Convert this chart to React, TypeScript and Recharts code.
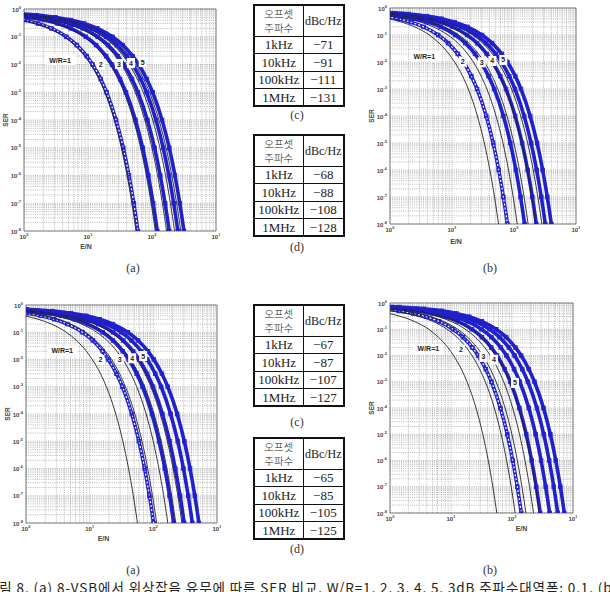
import React from 'react';
import { LineChart, Line, XAxis, YAxis, CartesianGrid, ReferenceArea, ReferenceDot, Label } from 'recharts';

const serLevels = [0.8, 0.7, 0.6, 0.5, 0.4, 0.3, 0.2, 0.1, 0.05, 0.02, 0.01, 0.003, 0.001, 1e-4, 1e-5, 1e-6, 1e-7, 1e-8, 1e-9];

// black lines: without phase noise, W/R = 1..5 (same in every panel)
const refX1 = [0.02, 0.11, 0.28, 0.55, 0.95, 1.55, 2.5, 4.3, 6.2, 8.9, 11, 14.8, 18.3, 25.7, 33.2, 40.8, 48.5, 56.3, 64.2];
const refX2 = [0.04, 0.22, 0.56, 1.1, 1.91, 3.1, 5.0, 8.6, 12.5, 17.8, 22.1, 29.5, 36.5, 51.3, 66.4, 81.6, 97, 112.6, 128.4];
const refX3 = [0.06, 0.33, 0.84, 1.66, 2.86, 4.66, 7.5, 12.9, 18.7, 26.8, 33.1, 44.3, 54.8, 77, 99.6, 122.4, 145.5, 168.9, 192.6];
const refX4 = [0.08, 0.44, 1.12, 2.21, 3.82, 6.21, 10, 17.2, 25, 35.7, 44.1, 59, 73, 102.6, 132.8, 163.2, 194, 225.2, 256.8];
const refX5 = [0.1, 0.55, 1.41, 2.76, 4.77, 7.77, 12.5, 21.5, 31.2, 44.6, 55.2, 73.8, 91.3, 128.3, 166, 204, 242.5, 281.5, 321];

// blue markers: with phase noise, top (a)
const topA1 = [0.02, 0.12, 0.30, 0.59, 1.02, 1.66, 2.68, 4.6, 6.68, 9.54, 11.8, 15.8, 19.5, 27.4, 35.5, 43.7, 51.9, 60.2, 68.7];
const topA2 = [0.04, 0.24, 0.60, 1.19, 2.05, 3.34, 5.38, 9.25, 13.4, 19.2, 23.7, 31.7, 39.2, 55.1, 71.4, 87.7, 104.3, 121, 138];
const topA3 = [0.07, 0.36, 0.93, 1.82, 3.15, 5.12, 8.25, 14.2, 20.6, 29.4, 36.4, 48.7, 60.2, 84.6, 109.6, 134.6, 160, 185.8, 211.9];
const topA4 = [0.09, 0.50, 1.26, 2.48, 4.29, 6.99, 11.25, 19.35, 28.1, 40.1, 49.6, 66.4, 82.1, 115.4, 149.4, 183.6, 218.3, 253.4, 288.9];
const topA5 = [0.11, 0.62, 1.57, 3.09, 5.34, 8.7, 14, 24.1, 34.9, 50, 61.8, 82.6, 102.2, 143.6, 185.9, 228.5, 271.6, 315.3, 359.5];
// top (b)
const topB1 = [0.03, 0.15, 0.39, 0.77, 1.33, 2.16, 3.48, 5.98, 8.67, 12.4, 15.3, 20.5, 25.4, 35.7, 46.1, 56.7, 67.4, 78.3, 89.2];
const topB2 = [0.05, 0.29, 0.74, 1.45, 2.51, 4.08, 6.58, 11.3, 16.4, 23.5, 29, 38.8, 48, 67.5, 87.3, 107.3, 127.6, 148.1, 168.8];
const topB3 = [0.08, 0.45, 1.14, 2.25, 3.88, 6.32, 10.2, 17.5, 25.4, 36.3, 44.9, 60, 74.3, 104.4, 135.1, 166.1, 197.4, 229.1, 261.3];
const topB4 = [0.11, 0.62, 1.6, 3.14, 5.42, 8.82, 14.2, 24.4, 35.4, 50.7, 62.7, 83.8, 103.7, 145.7, 188.6, 231.7, 275.5, 319.8, 364.7];
const topB5 = [0.14, 0.78, 2.0, 3.92, 6.77, 11, 17.75, 30.5, 44.3, 63.3, 78.3, 104.7, 129.6, 182.1, 235.7, 289.7, 344.4, 399.7, 455.8];
// bottom (a)
const botA1 = [0.04, 0.20, 0.50, 0.99, 1.71, 2.78, 4.48, 7.7, 11.2, 16, 19.7, 26.4, 32.7, 45.9, 59.4, 73, 86.8, 100.8, 114.9];
const botA2 = [0.07, 0.41, 1.04, 2.05, 3.54, 5.76, 9.28, 16, 23.2, 33.1, 40.9, 54.7, 67.7, 95.2, 123.2, 151.4, 179.9, 208.9, 238.2];
const botA3 = [0.11, 0.60, 1.52, 2.99, 5.17, 8.42, 13.6, 23.3, 33.8, 48.3, 59.8, 79.9, 98.9, 139, 180, 221.1, 262.9, 305.1, 348];
const botA4 = [0.15, 0.80, 2.05, 4.02, 6.95, 11.3, 18.2, 31.3, 45.4, 64.9, 80.3, 107.4, 132.9, 186.7, 241.7, 297, 353.1, 409.9, 467.4];
const botA5 = [0.18, 1.02, 2.6, 5.1, 8.81, 14.35, 23.1, 39.7, 57.7, 82.4, 101.9, 136.3, 168.6, 237, 306.8, 377, 448.1, 520.2, 593.2];
// bottom (b)
const botB1 = [0.05, 0.28, 0.71, 1.39, 2.4, 3.91, 6.3, 10.8, 15.7, 22.5, 27.8, 37.2, 46, 64.6, 83.7, 102.8, 122.2, 141.9, 161.8];
const botB2 = [0.10, 0.57, 1.45, 2.84, 4.91, 8.0, 12.9, 22.1, 32.1, 45.9, 56.8, 76, 94, 132.1, 171, 210.1, 249.8, 289.9, 330.6];
const botB3 = [0.15, 0.81, 2.07, 4.06, 7.01, 11.4, 18.4, 31.6, 45.9, 65.6, 81.1, 108.4, 134.1, 188.5, 244, 299.9, 356.5, 413.8, 471.9];
const botB4 = [0.20, 1.1, 2.8, 5.51, 9.52, 15.5, 24.95, 42.9, 62.3, 89, 110.1, 147.2, 182.1, 256, 331.3, 407.2, 484, 561.9, 640.7];
const botB5 = [0.26, 1.41, 3.6, 7.07, 12.2, 19.9, 32, 55, 79.9, 114.2, 141.2, 188.8, 233.6, 328.3, 425, 522.2, 620.8, 720.6, 821.8];

// curve labels and where they sit (E/N, SER)
const wrLabels = ['W/R=1', '2', '3', '4', '5'];
const annTopA = [[3.65, 0.0145], [15.8, 0.0104], [30.5, 0.0104], [47, 0.0113], [71.6, 0.0123]];
const annTopB = [[3.57, 0.0157], [14.9, 0.0103], [30.1, 0.0098], [44.7, 0.0109], [67.2, 0.0119]];
const annBotA = [[3.7, 0.021], [14.8, 0.0096], [29.7, 0.0102], [46.5, 0.0111], [69.2, 0.0134]];
const annBotB = [[4.25, 0.0177], [14.6, 0.0166], [33.9, 0.0088], [50.7, 0.0069], [112, 0.0009]];

// tables
const offsetFreqs = ['1kHz', '10kHz', '100kHz', '1MHz'];
const dbcTopC = [-71, -91, -111, -131];
const dbcTopD = [-68, -88, -108, -128];
const dbcBotC = [-67, -87, -107, -127];
const dbcBotD = [-65, -85, -105, -125];

const xDecades = [1, 10, 100, 1000];
const yExponents = [-8, -7, -6, -5, -4, -3, -2, -1, 0];
const minorSteps = [1, 2, 3, 4, 5, 6, 7, 8, 9];
const captionText = '그림 8. (a) 8-VSB에서 위상잡음 유무에 따른 SER 비교. W/R=1, 2, 3, 4, 5, 3dB 주파수대역폭: 0.1, (b)';

const BLUE = '#2020cc';
const TICK_FONT = '"Liberation Sans", Arial, sans-serif';

const refSeries = [refX1, refX2, refX3, refX4, refX5];
const xTicks = xDecades.flatMap((d) => (d === 1000 ? [1000] : minorSteps.map((m) => m * d)));
const yTicks = yExponents.flatMap((e) => (e === 0 ? [1] : minorSteps.map((m) => m * Math.pow(10, e))));

const toPts = (xs: number[]) => xs.map((x, i) => ({ x, y: serLevels[i] }));

const isDecade = (v: number) => Math.abs(Math.log10(v) - Math.round(Math.log10(v))) < 1e-6;

const XTick = (props: any) => {
  const { x, y, payload } = props;
  const v = payload.value;
  if (!isDecade(v)) return <g />;
  const e = Math.round(Math.log10(v));
  return (
    <text x={x} y={y + 6} textAnchor="middle" fontSize={6} fontWeight="bold" fontFamily={TICK_FONT} fill="#444">
      10<tspan dy={-3} fontSize={4}>{e}</tspan>
    </text>
  );
};

const YTick = (props: any) => {
  const { x, y, payload } = props;
  const v = payload.value;
  if (!isDecade(v)) return <g />;
  const e = Math.round(Math.log10(v));
  return (
    <text x={x - 1} y={y + 2.5} textAnchor="end" fontSize={6} fontWeight="bold" fontFamily={TICK_FONT} fill="#444">
      10<tspan dy={-3} fontSize={4}>{e}</tspan>
    </text>
  );
};

const squareDot = (props: any) => {
  const { cx, cy, index } = props;
  if (cx == null || cy == null || isNaN(cx) || isNaN(cy)) return <g key={'d' + index} />;
  return <rect key={'d' + index} x={cx - 1.8} y={cy - 1.8} width={3.6} height={3.6} fill="none" stroke={BLUE} strokeWidth={0.9} />;
};

const annShape = (text: string) => (props: any) => {
  const { cx, cy } = props;
  const w = text.length > 1 ? 30 : 8;
  return (
    <g>
      <rect x={cx - w / 2} y={cy - 5} width={w} height={10} fill="#fff" />
      <text x={cx} y={cy + 2.5} textAnchor="middle" fontSize={7} fontWeight="bold" fontFamily={TICK_FONT} fill="#222">{text}</text>
    </g>
  );
};

type Panel = {
  key: string; left: number; top: number; w: number; h: number;
  blue: number[][]; ann: number[][]; enDx: number; enDy: number;
};

const panels: Panel[] = [
  { key: 'ta', left: 24, top: 9, w: 192, h: 222, blue: [topA1, topA2, topA3, topA4, topA5], ann: annTopA, enDx: -34, enDy: 15 },
  { key: 'tb', left: 390, top: 8, w: 186, h: 216, blue: [topB1, topB2, topB3, topB4, topB5], ann: annTopB, enDx: -27, enDy: 17 },
  { key: 'ba', left: 26, top: 305, w: 191, h: 218, blue: [botA1, botA2, botA3, botA4, botA5], ann: annBotA, enDx: -18, enDy: 15 },
  { key: 'bb', left: 390, top: 303, w: 183, h: 210, blue: [botB1, botB2, botB3, botB4, botB5], ann: annBotB, enDx: 40, enDy: 15 },
];

const YW = 22;
const XH = 26;
const MT = 4;
const MR = 4;

function PlotPanel({ p }: { p: Panel }) {
  return (
    <div style={{ position: 'absolute', left: p.left - YW, top: p.top - MT }}>
      <LineChart width={YW + p.w + MR} height={MT + p.h + XH} margin={{ top: MT, right: MR, left: 0, bottom: 0 }}>
        <CartesianGrid stroke="#999" strokeDasharray="1 1.2" strokeWidth={0.7} />
        <XAxis
          dataKey="x" type="number" scale="log" domain={[1, 1000]} ticks={xTicks} allowDataOverflow
          height={XH} tickLine={false} axisLine={false} tick={<XTick />} interval={0} tickSize={0}
        >
          <Label
            content={(lp: any) => {
              const vb = lp.viewBox;
              return (
                <text x={vb.x + vb.width / 2 + p.enDx} y={vb.y + p.enDy + 2.5} textAnchor="middle" fontSize={7} fontWeight="bold" fontFamily={TICK_FONT} fill="#444">E/N</text>
              );
            }}
          />
        </XAxis>
        <YAxis
          type="number" scale="log" domain={[1e-8, 1]} ticks={yTicks} allowDataOverflow
          width={YW} tickLine={false} axisLine={false} tick={<YTick />} interval={0} tickSize={0}
        >
          <Label
            content={(lp: any) => {
              const vb = lp.viewBox;
              const cx = vb.x + vb.width - 16;
              const cy = vb.y + vb.height / 2;
              return (
                <text x={cx} y={cy} transform={`rotate(-90 ${cx} ${cy})`} textAnchor="middle" fontSize={6.5} fontWeight="bold" fontFamily={TICK_FONT} fill="#444">SER</text>
              );
            }}
          />
        </YAxis>
        <ReferenceArea x1={1} x2={1000} y1={1e-8} y2={1} fill="none" stroke="#666" strokeWidth={0.8} />
        {p.blue.map((xs, i) => (
          <Line
            key={'b' + i} data={toPts(xs)} dataKey="y" type="monotone" stroke={BLUE} strokeWidth={3.6}
            dot={squareDot} activeDot={false} isAnimationActive={false}
          />
        ))}
        <Line
          key="b0w" data={toPts(p.blue[0])} dataKey="y" type="monotone" stroke="#fff" strokeWidth={1.2}
          strokeDasharray="2 2" dot={false} activeDot={false} isAnimationActive={false}
        />
        {refSeries.map((xs, i) => (
          <Line
            key={'k' + i} data={toPts(xs)} dataKey="y" type="monotone" stroke="#222" strokeWidth={0.9}
            dot={false} activeDot={false} isAnimationActive={false}
          />
        ))}
        {p.ann.map((a, i) => (
          <ReferenceDot key={'a' + i} x={a[0]} y={a[1]} r={0} ifOverflow="visible" shape={annShape(wrLabels[i])} />
        ))}
      </LineChart>
    </div>
  );
}

const serif = '"Liberation Serif", "Times New Roman", serif';
const kr = '"Noto Sans CJK KR", sans-serif';

function FreqTable({ top, values }: { top: number; values: number[] }) {
  const cell: React.CSSProperties = { border: '1px solid #111', padding: 0, textAlign: 'center', lineHeight: 1, overflow: 'hidden' };
  return (
    <table
      style={{
        position: 'absolute', left: 253, top, width: 90, height: 102, borderCollapse: 'collapse',
        border: '2px solid #111', fontFamily: serif, fontSize: 13, color: '#222', tableLayout: 'fixed',
      }}
    >
      <colgroup>
        <col style={{ width: 49 }} />
        <col style={{ width: 41 }} />
      </colgroup>
      <tbody>
        <tr style={{ height: 31 }}>
          <td style={{ ...cell, fontFamily: kr, fontSize: 10.5, fontWeight: 300, lineHeight: '14px' }}>
            <div style={{ height: 14 }}>오프셋</div>
            <div style={{ height: 14 }}>주파수</div>
          </td>
          <td style={{ ...cell, fontSize: 12 }}>dBc/Hz</td>
        </tr>
        {offsetFreqs.map((f, i) => (
          <tr key={f} style={{ height: 17.5 }}>
            <td style={cell}>{f}</td>
            <td style={cell}>{'\u2212' + Math.abs(values[i])}</td>
          </tr>
        ))}
      </tbody>
    </table>
  );
}

const SubLabel = ({ x, y, text }: { x: number; y: number; text: string }) => (
  <div style={{ position: 'absolute', left: x - 20, top: y - 7, width: 40, textAlign: 'center', fontFamily: serif, fontSize: 12, color: '#333', lineHeight: '14px' }}>
    {text}
  </div>
);

export default function App() {
  return (
    <div style={{ position: 'absolute', left: 0, top: 0, width: 610, height: 592, overflow: 'hidden', background: '#fff' }}>
      {panels.map((p) => (
        <PlotPanel key={p.key} p={p} />
      ))}
      <FreqTable top={4} values={dbcTopC} />
      <SubLabel x={297} y={115} text="(c)" />
      <FreqTable top={134} values={dbcTopD} />
      <SubLabel x={297} y={247} text="(d)" />
      <FreqTable top={304} values={dbcBotC} />
      <SubLabel x={297} y={422} text="(c)" />
      <FreqTable top={437} values={dbcBotD} />
      <SubLabel x={297} y={549} text="(d)" />
      <SubLabel x={133} y={268} text="(a)" />
      <SubLabel x={490} y={268} text="(b)" />
      <SubLabel x={133} y={570} text="(a)" />
      <SubLabel x={490} y={570} text="(b)" />
      <div style={{ position: 'absolute', left: -14, top: 579, whiteSpace: 'nowrap', fontFamily: kr, fontSize: 13.5, letterSpacing: 0.9, color: '#222', lineHeight: '16px' }}>
        {captionText}
      </div>
    </div>
  );
}
